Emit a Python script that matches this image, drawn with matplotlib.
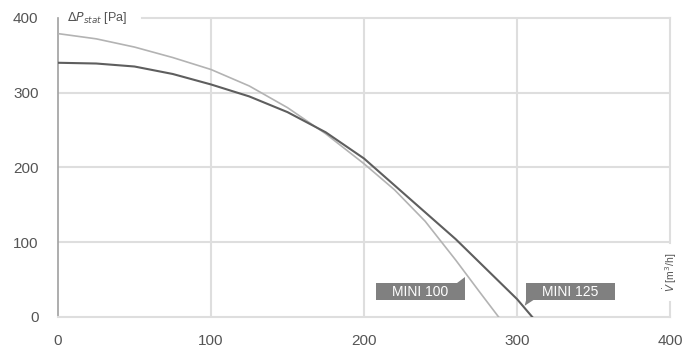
import matplotlib.pyplot as plt
from matplotlib.patches import Polygon, Rectangle

plt.rcParams['font.family'] = ['Liberation Sans', 'DejaVu Sans']

# MINI 100 curve
mini100_x = [0, 25, 50, 75, 100, 125, 150, 175, 200, 220, 240, 260, 275, 288]
mini100_y = [379, 372, 361, 347, 331, 309, 280, 245, 205, 170, 128, 76, 35, 0]
# MINI 125 curve
mini125_x = [0, 25, 50, 75, 100, 125, 150, 175, 200, 220, 240, 260, 280, 300, 310]
mini125_y = [340, 339, 335, 325, 311, 295, 274, 247, 212, 176, 140, 104, 64, 24, 0]

ticks = [0, 100, 200, 300, 400]

fig = plt.figure(figsize=(6.91, 3.49), dpi=100)
ax = fig.add_axes([0.0839, 0.0917, 0.8857, 0.857])
ax.set_xlim(0, 400)
ax.set_ylim(0, 400)

grid_c = '#dedede'
for t in [100, 200, 300]:
    ax.axvline(t, color=grid_c, lw=1.5, zorder=1)
    ax.axhline(t, color=grid_c, lw=1.5, zorder=1)
ax.plot([55, 400], [400, 400], color=grid_c, lw=1.5, zorder=1, clip_on=False)
ax.plot([400, 400], [0, 20], color=grid_c, lw=1.5, zorder=1, clip_on=False)
ax.plot([400, 400], [99, 400], color=grid_c, lw=1.5, zorder=1, clip_on=False)

for s in ['top', 'right']:
    ax.spines[s].set_visible(False)
ax.spines['left'].set_color('#a0a0a0')
ax.spines['bottom'].set_color(grid_c)
ax.spines['left'].set_linewidth(1.2)
ax.spines['bottom'].set_linewidth(1.5)

ax.set_xticks(ticks)
ax.set_yticks(ticks)
ax.tick_params(length=0, colors='#555555', labelsize=11)
ax.tick_params(axis='y', pad=14)
ax.tick_params(axis='x', pad=12)

ax.plot(mini100_x, mini100_y, color='#b3b3b3', lw=1.2, zorder=3)
ax.plot(mini125_x, mini125_y, color='#5e5e5e', lw=1.5, zorder=3)

ax.text(6, 400, r'$\Delta P_{stat}$ [Pa]', fontsize=9, color='#555555',
        va='center', ha='left', zorder=4,
        bbox=dict(facecolor='white', edgecolor='none', pad=2))
ax.text(400, 60, r'$\dot{V}$ [m$^3$/h]', fontsize=7.5, color='#555555',
        rotation=90, va='center', ha='center', zorder=4)

box_c = '#808080'
# MINI 100 label, pointer at top right
ax.add_patch(Rectangle((208, 23), 58, 22, facecolor=box_c, edgecolor='none', zorder=4))
ax.add_patch(Polygon([(261, 45), (266, 45), (266, 53)], closed=True,
                     facecolor=box_c, edgecolor='none', zorder=4))
ax.text(237, 34, 'MINI 100', color='white', fontsize=10, ha='center',
        va='center', zorder=5)
# MINI 125 label, pointer at bottom left
ax.add_patch(Rectangle((306, 23), 58, 22, facecolor=box_c, edgecolor='none', zorder=4))
ax.add_patch(Polygon([(306, 23), (311, 23), (305, 15)], closed=True,
                     facecolor=box_c, edgecolor='none', zorder=4))
ax.text(335, 34, 'MINI 125', color='white', fontsize=10, ha='center',
        va='center', zorder=5)

fig.savefig('out.png', dpi=100)
